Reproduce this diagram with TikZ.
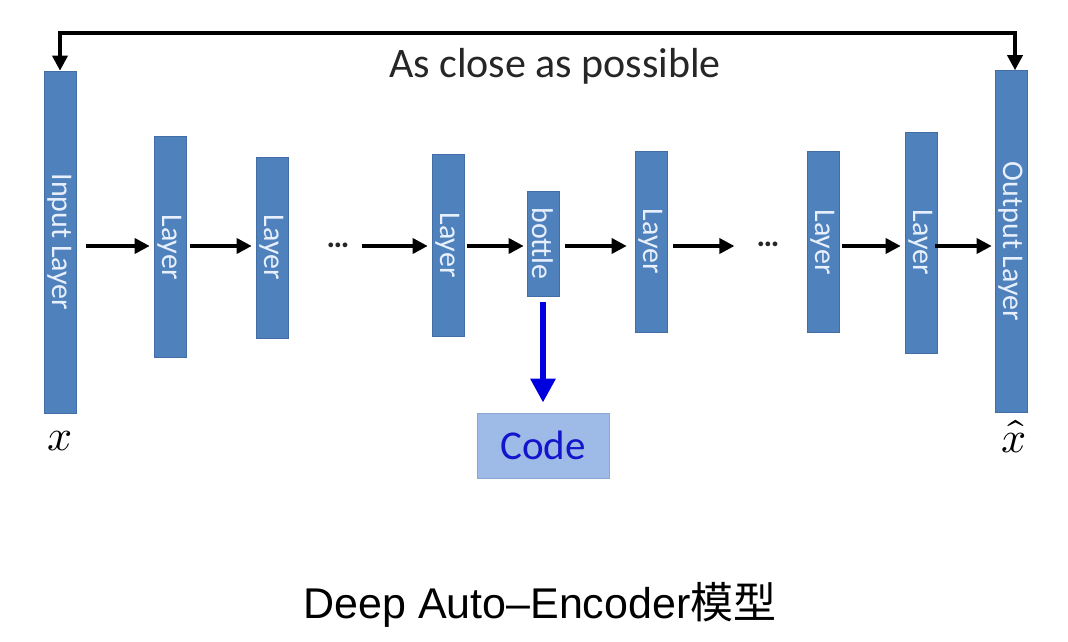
\documentclass[tikz,border=0pt]{standalone}
\usepackage{fontspec}
\usepackage{unicode-math}
\setmainfont{Carlito}
\setmathfont{Latin Modern Math}
\newfontfamily\headfont{Liberation Sans}
\newfontfamily\cjk{Noto Sans CJK SC}
\usetikzlibrary{arrows.meta}
\definecolor{layerblue}{RGB}{79,129,189}
\definecolor{layeredge}{RGB}{66,110,165}
\definecolor{labelwhite}{RGB}{232,240,252}
\definecolor{codefill}{RGB}{158,186,230}
\definecolor{codeedge}{RGB}{140,166,212}
\definecolor{codetext}{RGB}{20,20,205}
\definecolor{codearrow}{RGB}{0,0,222}
\begin{document}
\begin{tikzpicture}[x=1pt,y=-1pt,
  layerbox/.style={rectangle, fill=layerblue, draw=layeredge, line width=0.6pt,
    minimum width=32pt, inner sep=0pt, minimum height=#1},
  lbl/.style={rotate=-90, text=labelwhite, font=\fontsize{30}{30}\selectfont, inner sep=0pt},
  arr/.style={line width=3.5pt, -{Triangle[length=15pt,width=15pt]}},
  dotsnode/.style={font=\bfseries\fontsize{32}{32}\selectfont, inner sep=0pt, text=black!85},
]
\useasboundingbox (0,0) rectangle (1068,642);

\node[layerbox=342pt, label={[lbl]center:Input Layer}] (in)  at (60,242) {};
\node[layerbox=221pt, label={[lbl]center:Layer}] (l1)  at (170,247) {};
\node[layerbox=181pt, label={[lbl]center:Layer}] (l2)  at (272,247.5) {};
\node[dotsnode] (d1) at (338,245) {…};
\node[layerbox=182pt, label={[lbl]center:Layer}] (l3)  at (448,245) {};
\node[layerbox=105pt, label={[lbl]center:bottle}] (bn)  at (543,243.5) {};
\node[layerbox=181pt, label={[lbl]center:Layer}] (l4)  at (651,241.5) {};
\node[dotsnode] (d2) at (768,244) {…};
\node[layerbox=181pt, label={[lbl]center:Layer}] (l5)  at (823,242) {};
\node[layerbox=221pt, label={[lbl]center:Layer}] (l6)  at (921,242.5) {};
\node[layerbox=342pt, label={[lbl]center:Output Layer}] (out) at (1011,241.5) {};

\coordinate (row) at (0,246);
\draw[arr, shorten <=10pt, shorten >=4pt] (in.east |- row) -- (l1.west |- row);
\draw[arr, shorten <=4pt, shorten >=4pt] (l1.east |- row) -- (l2.west |- row);
\draw[arr, shorten <=12pt, shorten >=4pt] (d1.east |- row) -- (l3.west |- row);
\draw[arr, shorten <=3pt, shorten >=3pt] (l3.east |- row) -- (bn.west |- row);
\draw[arr, shorten <=6pt, shorten >=8pt] (bn.east |- row) -- (l4.west |- row);
\draw[arr, shorten <=6pt, shorten >=22pt] (l4.east |- row) -- (d2.west |- row);
\draw[arr, shorten <=3pt, shorten >=4pt] (l5.east |- row) -- (l6.west |- row);
\draw[arr, shorten <=-2pt, shorten >=3pt] (l6.east |- row) -- (out.west |- row);

\coordinate (topL) at (60,33);
\coordinate (topR) at (1015,33);
\draw[line width=3.5pt] (topL) -- (topR);
\draw[arr, shorten <=-1.75pt] (topL) -- (in.north);
\draw[arr, shorten <=-1.75pt] (topR) -- (topR |- out.north);

\node[font=\fontsize{42}{42}\selectfont, text=black!85] (close) at (555,66) {As close as possible};

\node[rectangle, fill=codefill, draw=codeedge, line width=0.8pt,
  minimum width=132pt, minimum height=65pt, inner sep=0pt,
  text=codetext, font=\fontsize{41}{41}\selectfont] (code) at (543,445.5) {Code};
\draw[line width=6.5pt, codearrow, -{Triangle[length=24pt,width=24pt]}, shorten <=6pt, shorten >=10pt] (bn.south) -- (code.north);

\node[font=\fontsize{44}{44}\selectfont, inner sep=0pt] (xin) at (60,441) {$x$};
\node[font=\fontsize{44}{44}\selectfont, inner sep=0pt] (xout) at (1014,437) {$\hat{x}$};

\node[font=\fontsize{43}{43}\selectfont\headfont, inner sep=0pt] (title) at (540,605) {Deep Auto–Encoder{\cjk 模型}};
\end{tikzpicture}
\end{document}
